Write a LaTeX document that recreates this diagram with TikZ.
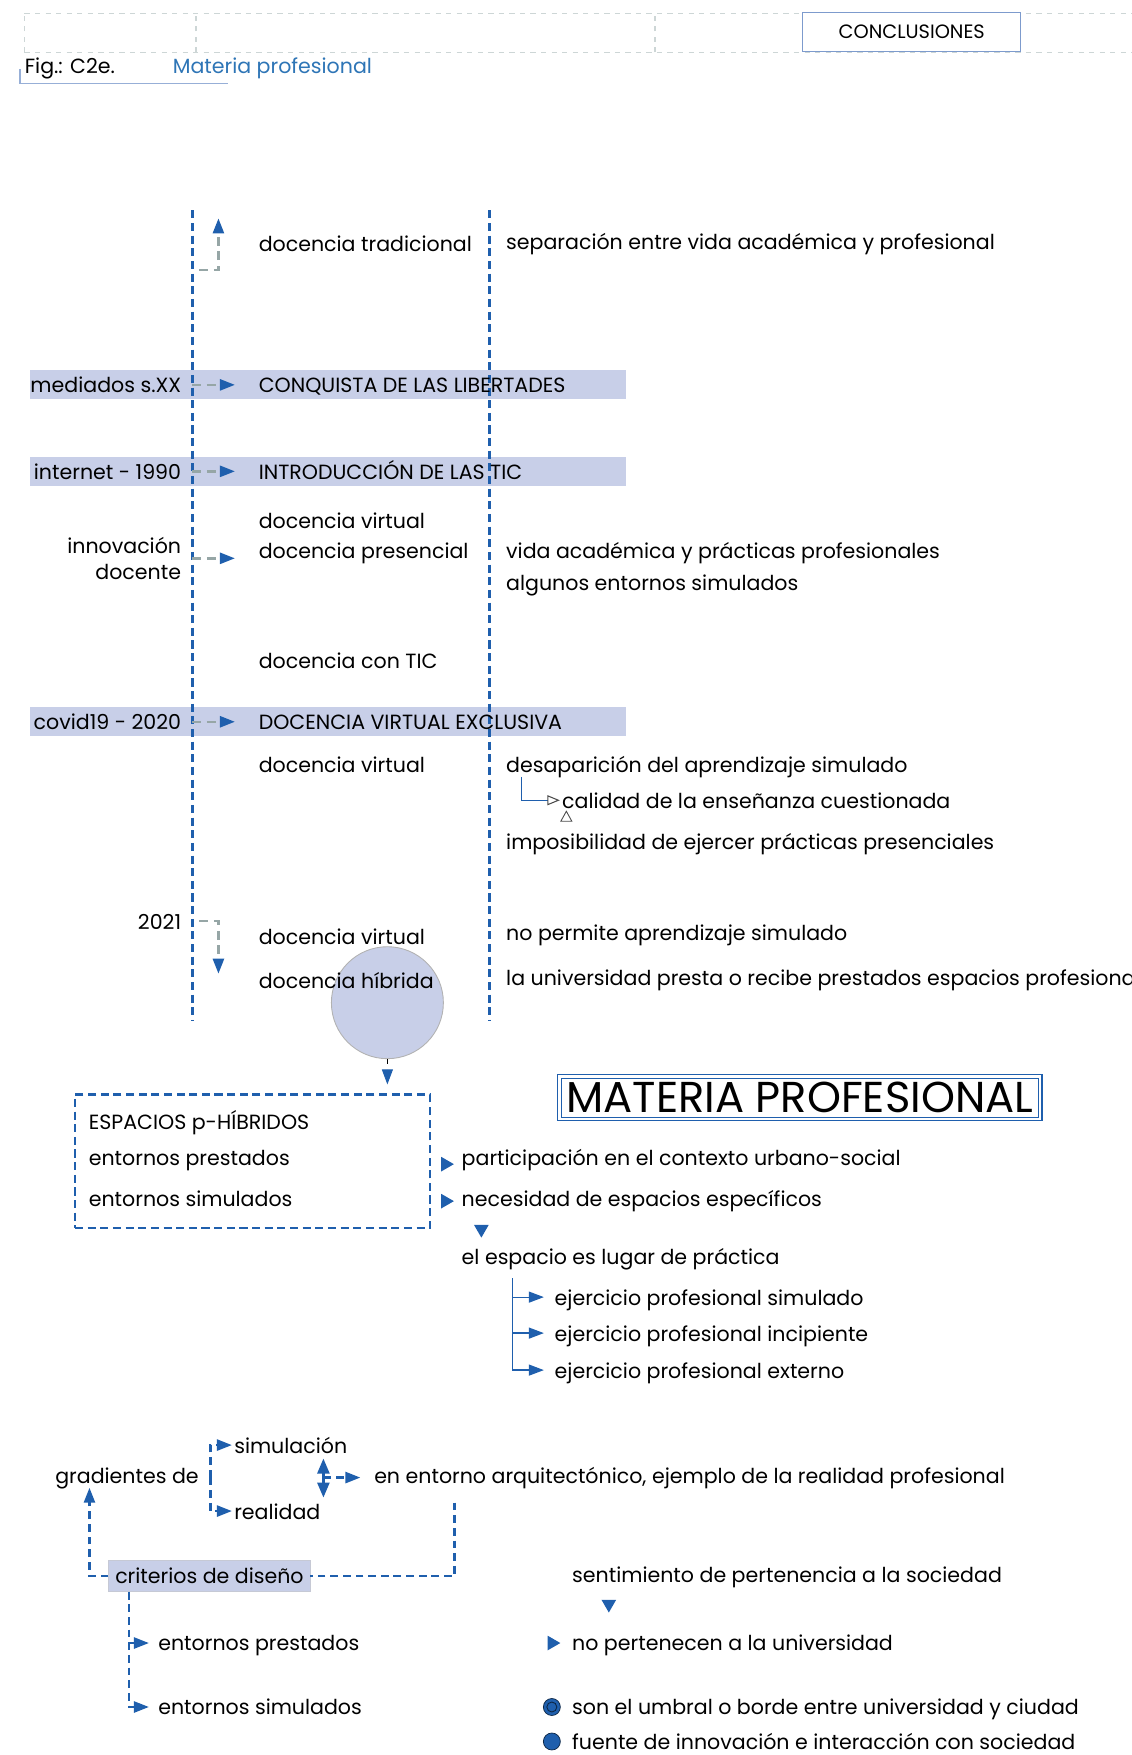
\documentclass[tikz,border=0pt]{standalone}
\usepackage{fontspec}
\setmainfont{Poppins}
\usetikzlibrary{arrows.meta,shapes.geometric}

\definecolor{lineblue}{RGB}{31,95,173}
\definecolor{bandfill}{RGB}{200,207,232}
\definecolor{stepgrey}{RGB}{150,166,166}
\definecolor{framegrey}{RGB}{205,214,214}
\definecolor{headblue}{RGB}{46,117,182}
\definecolor{edgeblue}{RGB}{125,155,205}

\begin{document}
\begin{tikzpicture}[font=\fontsize{11.7}{14.6}\selectfont,x=1cm,y=1cm]
    \tikzset{
        txt/.style={anchor=west,inner sep=0pt,text height=2.05ex,text depth=0.4ex},
        lbl/.style={txt,anchor=east},
        band/.style={fill=bandfill,minimum width=11.92cm,minimum height=0.58cm,inner sep=0pt},
        axis/.style={lineblue,line width=1.4pt,dash pattern=on 4.6pt off 2.6pt},
        tipb/.style={-{Triangle[length=0.3cm,width=0.22cm,color=lineblue]}},
        stepflow/.style={tipb,stepgrey,line width=1.4pt,dash pattern=on 5pt off 3.2pt},
        blueflow/.style={tipb,lineblue,line width=1.4pt,dash pattern=on 4.4pt off 2.8pt},
        branch/.style={tipb,lineblue,line width=0.7pt},
        markright/.style={regular polygon,regular polygon sides=3,shape border rotate=-90,
            fill=lineblue,minimum size=0.34cm,inner sep=0pt},
        markdown/.style={markright,shape border rotate=180},
        dot/.style={circle,fill=lineblue,draw=black!60!lineblue,minimum size=0.34cm,inner sep=0pt}
    }
    \useasboundingbox (0,0) rectangle (22.64,35.11);

    % cabecera
    \draw[framegrey,dashed,line width=0.8pt] (0.49,34.84) -- (22.64,34.84)
        (0.49,34.06) -- (22.64,34.06);
    \foreach \xv in {0.49,3.92,13.10}
        \draw[framegrey,dashed,line width=0.8pt] (\xv,34.06) -- (\xv,34.84);
    \node[draw=edgeblue,fill=white,line width=0.8pt,minimum width=4.36cm,minimum height=0.78cm,
        font=\fontsize{11}{13}\selectfont] (concl) at (18.24,34.47) {CONCLUSIONES};
    \node[txt] (fig) at (0.49,33.79) {Fig.: C2e.};
    \node[txt,text=headblue] (figname) at (3.45,33.79) {Materia profesional};
    \draw[edgeblue!80,line width=0.6pt] (0.40,33.72) |- (4.57,33.43);

    % franjas de epoca
    \node[band] (band1) at (6.56,27.41) {};
    \node[band] (band2) at (6.56,25.68) {};
    \node[band] (band3) at (6.56,20.67) {};

    % ejes del tiempo
    \draw[axis] (3.85,30.90) -- (3.85,14.69);
    \draw[axis] (9.79,30.90) -- (9.79,14.69);

    \node[dot,circle,fill=bandfill,draw=black!30,line width=0.5pt,minimum size=2.24cm] (blob) at (7.75,15.05) {};

    % etiquetas a la izquierda
    \node[lbl] (med) at (3.63,27.41) {mediados s.XX};
    \node[lbl] (inet) at (3.63,25.68) {internet - 1990};
    \node[anchor=east,inner sep=0pt,align=right] (inn) at (3.63,23.94) {innovación\\docente};
    \node[lbl] (covid) at (3.63,20.67) {covid19 - 2020};
    \node[lbl] (yr) at (3.63,16.68) {2021};

    % columna central
    \node[txt] (trad) at (5.17,30.23) {docencia tradicional};
    \node[txt] (conq) at (5.17,27.41) {CONQUISTA DE LAS LIBERTADES};
    \node[txt] (intro) at (5.17,25.68) {INTRODUCCIÓN DE LAS TIC};
    \node[txt] (virt1) at (5.17,24.70) {docencia virtual};
    \node[txt] (pres) at (5.17,24.09) {docencia presencial};
    \node[txt] (tic) at (5.17,21.90) {docencia con TIC};
    \node[txt] (excl) at (5.17,20.67) {DOCENCIA VIRTUAL EXCLUSIVA};
    \node[txt] (virt2) at (5.17,19.81) {docencia virtual};
    \node[txt] (virt3) at (5.17,16.37) {docencia virtual};
    \node[txt] (hibr) at (5.17,15.50) {docencia híbrida};

    % columna derecha
    \node[txt] (sep) at (10.12,30.27) {separación entre vida académica y profesional};
    \node[txt] (vida) at (10.12,24.09) {vida académica y prácticas profesionales};
    \node[txt] (algu) at (10.12,23.46) {algunos entornos simulados};
    \node[txt] (desap) at (10.12,19.81) {desaparición del aprendizaje simulado};
    \node[txt] (calid) at (11.24,19.10) {calidad de la enseñanza cuestionada};
    \node[txt] (impo) at (10.12,18.27) {imposibilidad de ejercer prácticas presenciales};
    \node[txt] (noper) at (10.12,16.46) {no permite aprendizaje simulado};
    \node[txt] (presta) at (10.12,15.56) {la universidad presta o recibe prestados espacios profesionales};

    % flechas del eje
    \coordinate (t0) at (3.99,29.71);
    \coordinate (t1) at (4.37,30.74);
    \coordinate (y1) at (4.37,15.63);
    \draw[stepflow] (t0) -| (t1);
    \draw[stepflow,shorten <=0.22cm,shorten >=0.47cm] (med.east) -- (conq.west);
    \draw[stepflow,shorten <=0.22cm,shorten >=0.47cm] (inet.east) -- (intro.west);
    \draw[stepflow,shorten <=0.22cm,shorten >=0.47cm] (inn.east) -- (inn.east -| pres.west);
    \draw[stepflow,shorten <=0.22cm,shorten >=0.47cm] (covid.east) -- (excl.west);
    \draw[stepflow,shorten <=0.36cm] (yr.east) -| (y1);

    \draw[lineblue,line width=0.6pt,-{Triangle[open,length=0.25cm,width=0.2cm,color=black!70]},
        shorten >=0.04cm] ([xshift=0.32cm]desap.south west) |- (calid.west);
    \draw[black!70,line width=0.5pt] (11.22,18.68) -- (11.44,18.68) -- (11.33,18.88) -- cycle;

    % espacios p-hibridos
    \node[draw=lineblue,line width=1.4pt,dash pattern=on 4.6pt off 2.6pt,
        minimum width=7.10cm,minimum height=2.67cm] (phib) at (5.05,11.875) {};
    \draw[black,line width=0.5pt,dashed,tipb,shorten >=0.18cm] (blob.south) -- (blob.south |- phib.north);
    \node[txt] (esp) at (1.77,12.67) {ESPACIOS p-HÍBRIDOS};
    \node[txt] (prest1) at (1.77,11.95) {entornos prestados};
    \node[txt] (simul1) at (1.77,11.13) {entornos simulados};

    \node[draw=lineblue,double=white,double distance=1.4pt,line width=0.6pt,inner sep=2pt,
        minimum width=9.62cm,minimum height=0.85cm,font=\fontsize{24.6}{28}\selectfont] (title)
        at (16.00,13.15) {MATERIA PROFESIONAL};

    \node[markright] (m1) at (8.91,11.82) {};
    \node[markright] (m2) at (8.91,11.08) {};
    \node[txt] (partic) at (9.23,11.95) {participación en el contexto urbano-social};
    \node[txt] (neces) at (9.23,11.13) {necesidad de espacios específicos};
    \node[markdown] (m3) at (9.63,10.52) {};
    \node[txt] (lugar) at (9.23,9.98) {el espacio es lugar de práctica};

    \coordinate (fork1) at (10.26,9.54);
    \node[txt] (ejsim) at (11.09,9.16) {ejercicio profesional simulado};
    \node[txt] (ejinc) at (11.09,8.44) {ejercicio profesional incipiente};
    \node[txt] (ejext) at (11.09,7.70) {ejercicio profesional externo};
    \foreach \n in {ejsim,ejinc,ejext}
        \draw[branch,shorten >=0.21cm] (fork1) |- (\n.west);

    % criterios de diseno
    \node[txt] (grad) at (1.10,5.59) {gradientes de};
    \node[txt] (simu) at (4.68,6.20) {simulación};
    \node[txt] (real) at (4.68,4.88) {realidad};
    \coordinate (fork2) at (4.21,5.55);
    \draw[blueflow,shorten >=0.04cm] (fork2) |- (simu.west);
    \draw[blueflow,shorten >=0.04cm] (fork2) |- (real.west);
    \coordinate (lo) at (6.47,5.15);
    \coordinate (hi) at (6.47,5.93);
    \coordinate (mid) at (6.47,5.55);
    \draw[lineblue,line width=1.4pt,{Triangle[length=0.3cm,width=0.24cm]}-{Triangle[length=0.3cm,width=0.24cm]}]
        (lo) -- (hi);
    \node[txt] (entorno) at (7.48,5.59) {en entorno arquitectónico, ejemplo de la realidad profesional};
    \draw[blueflow,shorten >=0.27cm] (mid) -- (mid -| entorno.west);

    \node[fill=bandfill,draw=bandfill!80!black!60,line width=0.3pt,anchor=west,minimum width=4.03cm,
        minimum height=0.62cm,inner sep=0pt] (crit) at (2.17,3.58) {criterios de diseño};
    \draw[lineblue,line width=1.4pt,dash pattern=on 4.4pt off 2.8pt,shorten <=0.3cm]
        ([xshift=1.61cm]entorno.south west) |- (crit.east);
    \draw[blueflow] (crit.west) -| ([xshift=0.69cm]grad.south west);
    \node[txt] (prest2) at (3.16,2.24) {entornos prestados};
    \node[txt] (simul2) at (3.16,0.96) {entornos simulados};
    \draw[blueflow,shorten >=0.18cm] ([xshift=0.41cm]crit.south west) |- (prest2.west);
    \draw[blueflow,shorten >=0.18cm] ([xshift=0.41cm]crit.south west) |- (simul2.west);

    \node[txt] (sent) at (11.44,3.60) {sentimiento de pertenencia a la sociedad};
    \node[markdown] (m4) at (12.18,3.02) {};
    \node[markright] (m5) at (11.04,2.24) {};
    \node[txt] (nouni) at (11.44,2.24) {no pertenecen a la universidad};
    \node[dot] (d1) at (11.04,0.96) {};
    \draw[black!60!lineblue,line width=0.5pt] (d1) circle (0.1);
    \node[txt] (umbral) at (11.44,0.96) {son el umbral o borde entre universidad y ciudad};
    \node[dot] (d2) at (11.04,0.27) {};
    \node[txt] (fuente) at (11.44,0.27) {fuente de innovación e interacción con sociedad};
\end{tikzpicture}
\end{document}
